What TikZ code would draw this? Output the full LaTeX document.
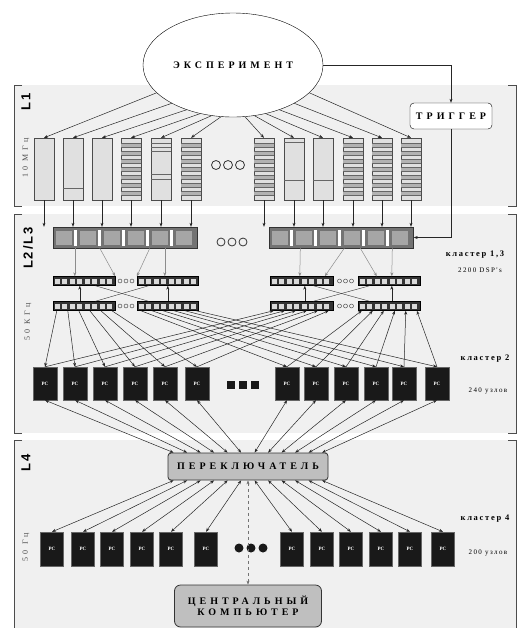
\documentclass[tikz,border=0pt]{standalone}
\usepackage{fontspec}
\setmainfont{Liberation Serif}
\newfontfamily\widefont[LetterSpace=40]{Liberation Serif}
\newfontfamily\sparefont[LetterSpace=20]{Liberation Serif}
\newfontfamily\lvlfont[LetterSpace=15]{Liberation Sans}
\usetikzlibrary{positioning,calc,shapes.geometric,arrows.meta}

\tikzset{
  capslbl/.style={font=\widefont\bfseries\fontsize{10}{11}\selectfont},
  modl/.style={draw=black!70,fill=black!12,minimum width=20pt,minimum height=62pt,inner sep=0pt},
  bufbar/.style={draw=black!80,fill=black!55,minimum width=144pt,minimum height=21pt,inner sep=0pt},
  cellstrip/.style={draw=black,fill=black!80,minimum height=9pt,inner sep=0pt},
  pcbox/.style={draw=black!60,fill=black!90,text=white,font=\fontsize{5}{6}\selectfont\bfseries,inner sep=0pt},
  greybox/.style={draw=black!80,fill=black!25,rounded corners=3pt,capslbl,thick},
  conn/.style={-{Stealth[length=4pt,width=3pt]},black!85,line width=.5pt},
  dconn/.style={{Stealth[length=4pt,width=3pt]}-{Stealth[length=4pt,width=3pt]},black!85,line width=.5pt},
  lvllbl/.style={font=\lvlfont\bfseries\fontsize{13}{14}\selectfont,rotate=90},
  frqlbl/.style={font=\widefont\fontsize{8}{9}\selectfont,text=black!70,rotate=90},
  clulbl/.style={font=\sparefont\bfseries\fontsize{8.5}{9}\selectfont},
  numlbl/.style={font=\sparefont\fontsize{7}{8}\selectfont},
}

\begin{document}
\begin{tikzpicture}[x=1pt,y=-1pt]
  \useasboundingbox (0,0) rectangle (524,630);
  \fill[black!6] (14,85) rectangle (516,206);
  \fill[black!6] (14,214) rectangle (516,433);
  \fill[black!6] (14,440) rectangle (516,628);

  \draw[black!70,thick] (22,85) -| (14,206) -- (22,206);
  \draw[black!70,thick] (22,214) -| (14,433) -- (22,433);
  \draw[black!70,thick] (22,440) -| (14,628);
  \draw[black!70,thick] (508,85) -| (516,206) -- (508,206);
  \draw[black!70,thick] (508,214) -| (516,433) -- (508,433);
  \draw[black!70,thick] (508,440) -| (516,628);

  \node[lvllbl] (tL1) at (26,102) {L1};
  \node[frqlbl] (fL1) at (26,158) {10 МГц};
  \node[lvllbl] (tL23) at (28,248) {L2/L3};
  \node[frqlbl] (fL23) at (28,322) {50 КГц};
  \node[lvllbl] (tL4) at (26,463) {L4};
  \node[frqlbl] (fL4) at (26,547) {50 Гц};

  \node[draw,ellipse,fill=white,minimum width=180pt,minimum height=104pt,capslbl] (exp) at (233,65) {ЭКСПЕРИМЕНТ};
  \node[draw,rounded corners=4pt,fill=white,minimum width=82pt,minimum height=26pt,capslbl] (trg) at (451,116) {ТРИГГЕР};

  \foreach \i/\x in {1/44,2/73,3/102,4/131,5/161,6/191,7/264,8/294,9/323,10/353,11/382,12/411}
    \node[modl] (m\i) at (\x,169) {};
  \foreach \i in {4,6,7,10,11,12}{
    \foreach \k in {5,13,...,53}
      \fill[black!30] ($(m\i.north west)+(0,\k)$) rectangle ($(m\i.north east)+(0,\k+4)$);
    \foreach \k in {5,9,...,57}
      \draw[black!60] ($(m\i.north west)+(0,\k)$) -- ($(m\i.north east)+(0,\k)$);
  }
  \foreach \i/\k in {2/50,5/5,5/9,5/13,5/36,5/41,8/4,8/42,9/42}
    \draw[black!60] ($(m\i.north west)+(0,\k)$) -- ($(m\i.north east)+(0,\k)$);
  \foreach \x in {216,228,240}
    \draw[black!80,thick] (\x,165) circle[radius=4.5];

  \foreach \i/\a in {1/200,2/212,3/224,4/236,5/247,6/257,7/283,8/293,9/304,10/316,11/328,12/340}
    \draw[conn] (exp.\a) -- (m\i.north);
  \draw[conn] (exp.east) -| (trg.north);

  \node[bufbar] (bar1) at (125,237.5) {};
  \node[bufbar] (bar2) at (341.5,237.5) {};
  \foreach \b in {1,2}{
    \foreach \c in {0,...,5}
      \fill[black!35] ($(bar\b.west)+(3+\c*24,-7)$) rectangle +(16,14);
    \foreach \c in {0,...,4}
      \fill[white] ($(bar\b.west)+(21+\c*24,-8)$) rectangle +(3,16);
  }
  \foreach \x in {221,232,243}
    \draw[black!80,thick] (\x,242) circle[radius=4];
  \foreach \i in {1,...,6}
    \draw[conn] (m\i.south) -- (m\i.south |- bar1.north);
  \foreach \i in {7,...,12}
    \draw[conn] (m\i.south) -- (m\i.south |- bar2.north);
  \draw[conn] (trg.south) |- (bar2.east);

  \node[cellstrip,minimum width=62pt] (s1) at (84,281) {};
  \node[cellstrip,minimum width=61pt] (s2) at (167.5,281) {};
  \node[cellstrip,minimum width=62pt] (s3) at (84,306) {};
  \node[cellstrip,minimum width=61pt] (s4) at (167.5,306) {};
  \node[cellstrip,minimum width=63pt] (s5) at (301.5,281) {};
  \node[cellstrip,minimum width=62pt] (s6) at (389,281) {};
  \node[cellstrip,minimum width=63pt] (s7) at (301.5,306) {};
  \node[cellstrip,minimum width=62pt] (s8) at (389,306) {};
  \foreach \s in {1,...,8}
    \foreach \c in {0,...,7}
      \fill[black!15] ($(s\s.west)+(2+\c*7.5,-2.5)$) rectangle +(5,5);
  \foreach \x in {120,126,132,339.5,345.5,351.5}
    \foreach \y in {281,306}
      \draw[black!80] (\x,\y) circle[radius=2];

  \draw[conn,black!45] ($(bar1.south west)+(22,0)$) -- ($(s1.north west)+(22,0)$);
  \draw[conn,black!45] ($(bar1.south west)+(47,0)$) -- (s1.north east);
  \draw[conn,black!45] ($(bar1.south west)+(97,0)$) -- (s2.north west);
  \draw[conn,black!45] ($(bar1.south west)+(112,0)$) -- ($(s2.north west)+(28,0)$);
  \draw[conn,black!45] ($(bar2.south west)+(31,0)$) -- ($(s5.north west)+(30,0)$);
  \draw[conn,black!45] ($(bar2.south west)+(75,0)$) -- ($(s5.north west)+(55,0)$);
  \draw[conn,black!45] ($(bar2.south west)+(91,0)$) -- ($(s6.north west)+(19,0)$);
  \draw[conn,black!45] ($(bar2.south west)+(123,0)$) -- ($(s6.north west)+(34,0)$);

  \draw[conn] ($(s3.north west)+(27,0)$) -- ($(s1.south west)+(27,0)$);
  \draw[conn] ($(s4.north west)+(31,0)$) -- ($(s2.south west)+(31,0)$);
  \draw[conn] ($(s7.north west)+(35,0)$) -- ($(s5.south west)+(35,0)$);
  \draw[conn] ($(s8.north west)+(34,0)$) -- ($(s6.south west)+(34,0)$);
  \draw[black!80] ($(s1.south east)+(-20,0)$) -- ($(s4.north west)+(12,0)$);
  \draw[black!80] ($(s2.south west)+(12,0)$) -- ($(s3.north east)+(-20,0)$);
  \draw[black!80] ($(s5.south east)+(-20,0)$) -- ($(s8.north west)+(12,0)$);
  \draw[black!80] ($(s6.south west)+(12,0)$) -- ($(s7.north east)+(-20,0)$);

  \foreach \i/\x in {1/45,2/75,3/105,4/135,5/165,6/197,7/287,8/316,9/346,10/376,11/404,12/437}
    \node[pcbox,minimum width=24pt,minimum height=33pt] (p\i) at (\x,383.5) {PC};
  \foreach \x in {231,243,255}
    \fill[black!90] (\x-4,381) rectangle (\x+4,389);

  \foreach \i in {1,...,6}{
    \draw[conn] ($(s3.south west)+(4+\i*11-11,0)$) -- (p\i.north);
    \draw[conn] ($(s4.south west)+(4+\i*11-11,0)$) -- (p\the\numexpr\i+6\relax.north);
    \draw[conn] (p\i.north) -- ($(s7.south west)+(4+\i*11-11,0)$);
    \draw[conn] (p\the\numexpr\i+6\relax.north) -- ($(s8.south west)+(4+\i*11-11,0)$);
  }

  \node[greybox,minimum width=160pt,minimum height=27pt] (sw) at (248,466.5) {ПЕРЕКЛЮЧАТЕЛЬ};
  \foreach \i in {1,...,12}
    \draw[dconn] (p\i.south) -- ($(sw.north west)+(6+\i*13.5-13.5,0)$);

  \foreach \i/\x in {1/52,2/83,3/112,4/142,5/171,6/206,7/292,8/322,9/351,10/381,11/410,12/443}
    \node[pcbox,minimum width=23pt,minimum height=34pt] (q\i) at (\x,549) {PC};
  \foreach \x in {239,251,263}
    \fill[black!90] (\x,548) circle[radius=4.5];
  \foreach \i in {1,...,12}
    \draw[dconn] ($(sw.south west)+(6+\i*13.5-13.5,0)$) -- (q\i.north);

  \node[greybox,align=center,minimum width=147pt,minimum height=42pt,rounded corners=6pt] (cc) at (248,606) {ЦЕНТРАЛЬНЫЙ\\КОМПЬЮТЕР};
  \draw[dconn,dashed,black!55] (sw.south) -- (cc.north);

  \node[clulbl] (cl13) at (475,255) {кластер 1,3};
  \node[numlbl] (n13) at (480,270) {2200 DSP's};
  \node[clulbl] (cl2) at (485,359) {кластер 2};
  \node[numlbl] (n2) at (488,391) {240 узлов};
  \node[clulbl] (cl4) at (485,519) {кластер 4};
  \node[numlbl] (n4) at (488,553) {200 узлов};
\end{tikzpicture}
\end{document}
